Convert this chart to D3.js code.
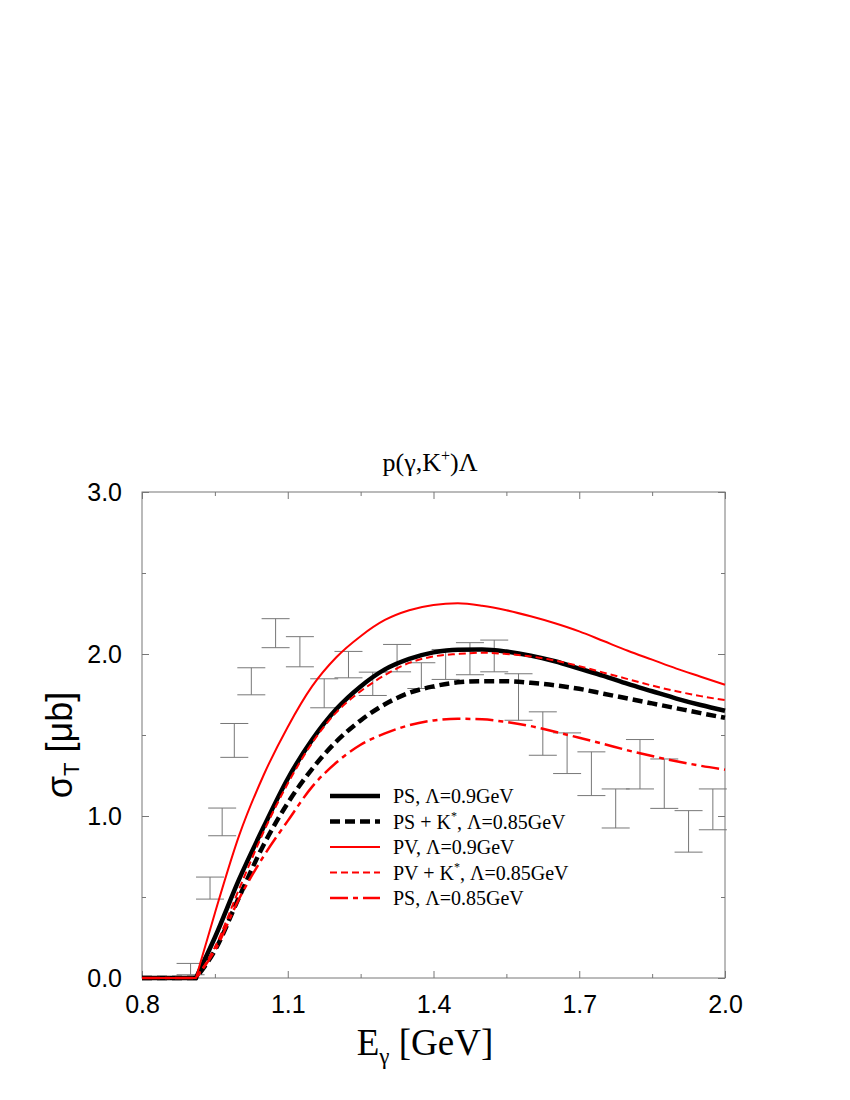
<!DOCTYPE html>
<html>
<head>
<meta charset="utf-8">
<script src="https://cdn.jsdelivr.net/npm/d3@7"></script>
<style>
  body { margin: 0; background: #fff; }
</style>
</head>
<body>
<div id="chart-area"></div>
<script>
// photon energy grid of the model curves (GeV), threshold at 0.911
const energies = [0.8, 0.911, 0.95, 1.0, 1.05, 1.1, 1.15, 1.2, 1.25, 1.3, 1.35, 1.4,
  1.45, 1.5, 1.55, 1.6, 1.65, 1.7, 1.75, 1.8, 1.85, 1.9, 1.95, 2.0];

const psLam090 = [0, 0, 0.25, 0.61, 0.93, 1.23, 1.47, 1.66, 1.80, 1.905, 1.97, 2.01,
  2.027, 2.028, 2.015, 1.99, 1.955, 1.91, 1.865, 1.815, 1.77, 1.725, 1.685, 1.65];
const psKstar085 = [0, 0, 0.17, 0.50, 0.82, 1.08, 1.29, 1.46, 1.59, 1.69, 1.76, 1.80,
  1.825, 1.832, 1.832, 1.822, 1.807, 1.785, 1.755, 1.725, 1.695, 1.665, 1.635, 1.606];
const pvLam090 = [0, 0, 0.40, 0.88, 1.25, 1.55, 1.80, 1.98, 2.11, 2.21, 2.27, 2.303,
  2.313, 2.298, 2.27, 2.233, 2.19, 2.14, 2.08, 2.02, 1.965, 1.91, 1.86, 1.81];
const pvKstar085 = [0, 0, 0.19, 0.55, 0.90, 1.20, 1.45, 1.64, 1.77, 1.87, 1.945, 1.985,
  2.0, 2.008, 2.0, 1.985, 1.96, 1.925, 1.885, 1.845, 1.805, 1.77, 1.74, 1.715];
const psLam085 = [0, 0, 0.17, 0.49, 0.75, 0.97, 1.18, 1.33, 1.44, 1.51, 1.56, 1.59,
  1.60, 1.597, 1.58, 1.555, 1.52, 1.483, 1.445, 1.405, 1.37, 1.338, 1.31, 1.286];

// measured points: energy, lower and upper end of the error bar
const dataE = [0.90, 0.94, 0.965, 0.99, 1.025, 1.075, 1.125, 1.175, 1.225, 1.275, 1.325, 1.375,
  1.425, 1.475, 1.525, 1.575, 1.625, 1.675, 1.725, 1.775, 1.825, 1.875, 1.925, 1.975];
const dataLo = [0.02, 0.487, 0.878, 1.362, 1.748, 2.039, 1.921, 1.668, 1.853, 1.744, 1.890, 1.787,
  1.843, 1.872, 1.890, 1.591, 1.375, 1.262, 1.126, 0.926, 1.167, 1.047, 0.777, 0.915];
const dataHi = [0.09, 0.623, 1.049, 1.571, 1.915, 2.218, 2.107, 1.847, 2.016, 1.888, 2.059, 1.946,
  2.028, 2.07, 2.086, 1.878, 1.643, 1.513, 1.396, 1.167, 1.472, 1.352, 1.033, 1.167];

const xTicks = [0.8, 1.1, 1.4, 1.7, 2.0];
const xMinor = [0.95, 1.25, 1.55, 1.85];
const yTicks = [0, 1, 2, 3];
const yMinor = [0.5, 1.5, 2.5];

const serif = "'Liberation Serif', 'Times New Roman', serif";
const sans = "'Liberation Sans', Arial, sans-serif";

const margin = { left: 142, right: 125, top: 492, bottom: 122 };
const width = 850 - margin.left - margin.right;
const height = 1100 - margin.top - margin.bottom;

const svg = d3.select("#chart-area")
  .append("svg")
    .attr("width", 850)
    .attr("height", 1100);

svg.append("rect").attr("width", 850).attr("height", 1100).attr("fill", "#fff");

const g = svg.append("g")
  .attr("transform", "translate(" + margin.left + "," + margin.top + ")");

const x = d3.scaleLinear().domain([0.8, 2.0]).range([0, width]);
const y = d3.scaleLinear().domain([0, 3]).range([height, 0]);

// axes, ticks pointing inwards on all four sides
function styleAxis(sel) {
  sel.select(".domain").remove();
  sel.selectAll("line").attr("stroke", "#777");
  sel.selectAll("text").attr("fill", "#000").attr("font-family", sans).attr("font-size", "25px");
}

g.append("g")
  .attr("transform", "translate(0," + height + ")")
  .call(d3.axisBottom(x).tickValues(xTicks).tickSizeInner(-7).tickSizeOuter(0)
    .tickPadding(17).tickFormat(d3.format(".1f")))
  .call(styleAxis);
g.append("g")
  .attr("transform", "translate(0," + height + ")")
  .call(d3.axisBottom(x).tickValues(xMinor).tickSizeInner(-4).tickSizeOuter(0).tickFormat(""))
  .call(styleAxis);
g.append("g")
  .call(d3.axisTop(x).tickValues(xTicks).tickSizeInner(-7).tickSizeOuter(0).tickFormat(""))
  .call(styleAxis);
g.append("g")
  .call(d3.axisTop(x).tickValues(xMinor).tickSizeInner(-4).tickSizeOuter(0).tickFormat(""))
  .call(styleAxis);

g.append("g")
  .call(d3.axisLeft(y).tickValues(yTicks).tickSizeInner(-7).tickSizeOuter(0)
    .tickPadding(20).tickFormat(d3.format(".1f")))
  .call(styleAxis);
g.append("g")
  .call(d3.axisLeft(y).tickValues(yMinor).tickSizeInner(-4).tickSizeOuter(0).tickFormat(""))
  .call(styleAxis);
g.append("g")
  .attr("transform", "translate(" + width + ",0)")
  .call(d3.axisRight(y).tickValues(yTicks).tickSizeInner(-7).tickSizeOuter(0).tickFormat(""))
  .call(styleAxis);
g.append("g")
  .attr("transform", "translate(" + width + ",0)")
  .call(d3.axisRight(y).tickValues(yMinor).tickSizeInner(-4).tickSizeOuter(0).tickFormat(""))
  .call(styleAxis);

g.append("rect")
  .attr("width", width)
  .attr("height", height)
  .attr("fill", "none")
  .attr("stroke", "#777")
  .attr("stroke-width", 1);

// error bars
const bars = g.append("g").attr("stroke", "#777").attr("stroke-width", 1);
dataE.forEach(function(e, i) {
  const cx = x(e);
  bars.append("line").attr("x1", cx).attr("x2", cx).attr("y1", y(dataLo[i])).attr("y2", y(dataHi[i]));
  [dataLo[i], dataHi[i]].forEach(function(v) {
    bars.append("line").attr("x1", cx - 14).attr("x2", cx + 14).attr("y1", y(v)).attr("y2", y(v));
  });
});

// model curves: flat below threshold, smooth above
const series = [
  { values: psLam090, color: "#000", width: 4.5, dash: null },
  { values: psKstar085, color: "#000", width: 4.5, dash: "10,5" },
  { values: pvLam090, color: "#f00", width: 2, dash: null },
  { values: pvKstar085, color: "#f00", width: 2, dash: "7,4" },
  { values: psLam085, color: "#f00", width: 2.5, dash: "18,5,5,5" }
];

const lineFlat = d3.line().x(d => x(d[0])).y(d => y(d[1]));
const lineSmooth = d3.line().x(d => x(d[0])).y(d => y(d[1])).curve(d3.curveMonotoneX);

series.forEach(function(s) {
  const pts = energies.map((e, i) => [e, s.values[i]]);
  const d = lineFlat(pts.slice(0, 2)) + lineSmooth(pts.slice(1)).replace(/^M[^C]*/, "");
  g.append("path")
    .attr("d", d)
    .attr("fill", "none")
    .attr("stroke", s.color)
    .attr("stroke-width", s.width)
    .attr("stroke-dasharray", s.dash);
});

// legend
const legendLabels = [
  ["PS, \u039B=0.9GeV"],
  ["PS + K", "*", ", \u039B=0.85GeV"],
  ["PV, \u039B=0.9GeV"],
  ["PV + K", "*", ", \u039B=0.85GeV"],
  ["PS, \u039B=0.85GeV"]
];
const legend = svg.append("g").attr("transform", "translate(330,796)");
series.forEach(function(s, i) {
  const row = legend.append("g").attr("transform", "translate(0," + (i * 25.5) + ")");
  row.append("line")
    .attr("x1", 0).attr("x2", 50)
    .attr("stroke", s.color)
    .attr("stroke-width", s.width)
    .attr("stroke-dasharray", s.dash);
  const t = row.append("text")
    .attr("x", 63).attr("y", 7)
    .attr("font-family", serif)
    .attr("font-size", "20px");
  const parts = legendLabels[i];
  t.append("tspan").text(parts[0]);
  if (parts.length > 1) {
    t.append("tspan").attr("dy", -9).attr("font-size", "12px").text(parts[1]);
    t.append("tspan").attr("dy", 9).text(parts[2]);
  }
});

// title
const title = svg.append("text")
  .attr("x", 430).attr("y", 471)
  .attr("text-anchor", "middle")
  .attr("font-family", serif)
  .attr("font-size", "26px");
title.append("tspan").text("p(\u03B3,K");
title.append("tspan").attr("dy", -10).attr("font-size", "16px").text("+");
title.append("tspan").attr("dy", 10).text(")\u039B");

// x label
const xLabel = svg.append("text")
  .attr("x", 425).attr("y", 1055)
  .attr("text-anchor", "middle")
  .attr("font-family", serif)
  .attr("font-size", "37px");
xLabel.append("tspan").text("E");
xLabel.append("tspan").attr("dy", 9).attr("font-size", "23px").text("\u03B3");
xLabel.append("tspan").attr("dy", -9).text(" [GeV]");

// y label
const yLabel = svg.append("text")
  .attr("transform", "translate(72,745) rotate(-90)")
  .attr("text-anchor", "middle")
  .attr("font-family", sans)
  .attr("font-size", "36px");
yLabel.append("tspan").text("\u03C3");
yLabel.append("tspan").attr("dy", 7).attr("font-size", "22px").text("T");
yLabel.append("tspan").attr("dy", -7).text(" [\u03BCb]");
</script>
</body>
</html>
